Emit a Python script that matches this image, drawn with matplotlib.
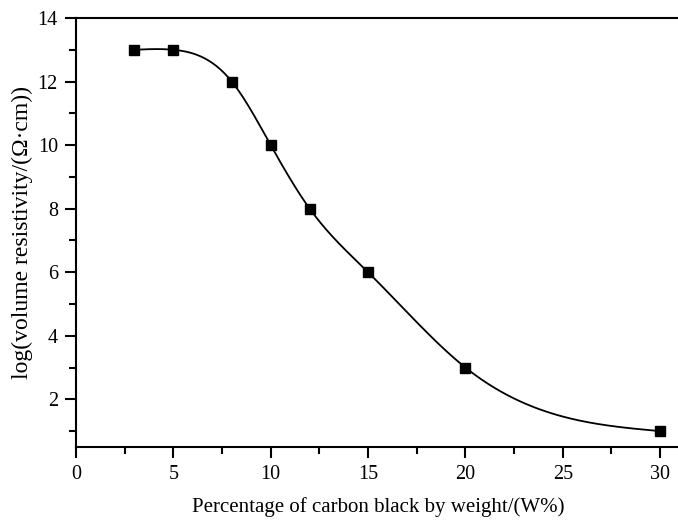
import numpy as np
import matplotlib.pyplot as plt

carbon_pct = [3, 5, 8, 10, 12, 15, 20, 30]
log_resist = [13, 13, 12, 10, 8, 6, 3, 1]


def natural_spline(x, y, xs):
    # plain natural cubic spline, solved with numpy
    x = np.asarray(x, float)
    y = np.asarray(y, float)
    n = len(x)
    h = np.diff(x)
    A = np.zeros((n, n))
    b = np.zeros(n)
    A[0, 0] = A[-1, -1] = 1
    for i in range(1, n - 1):
        A[i, i - 1] = h[i - 1]
        A[i, i] = 2 * (h[i - 1] + h[i])
        A[i, i + 1] = h[i]
        b[i] = 6 * ((y[i + 1] - y[i]) / h[i] - (y[i] - y[i - 1]) / h[i - 1])
    M = np.linalg.solve(A, b)
    idx = np.clip(np.searchsorted(x, xs) - 1, 0, n - 2)
    x0, x1 = x[idx], x[idx + 1]
    hh = h[idx]
    return (M[idx] * (x1 - xs)**3 / (6 * hh) + M[idx + 1] * (xs - x0)**3 / (6 * hh)
            + (y[idx] / hh - M[idx] * hh / 6) * (x1 - xs)
            + (y[idx + 1] / hh - M[idx + 1] * hh / 6) * (xs - x0))


plt.rcParams['font.family'] = ['Liberation Serif', 'DejaVu Serif']

fig = plt.figure(figsize=(6.78, 5.23), dpi=100)
ax = fig.add_axes([0.1121, 0.1453, 0.8903, 0.8203])

xs = np.linspace(carbon_pct[0], carbon_pct[-1], 400)
ax.plot(xs, natural_spline(carbon_pct, log_resist, xs), color='black', lw=1.3)
ax.plot(carbon_pct, log_resist, 's', color='black', markersize=7)

ax.set_xlim(0, 31)
ax.set_ylim(0.5, 14)
ax.set_xticks([0, 5, 10, 15, 20, 25, 30])
ax.set_xticks([2.5, 7.5, 12.5, 17.5, 22.5, 27.5], minor=True)
ax.set_yticks([2, 4, 6, 8, 10, 12, 14])
ax.set_yticks([1, 3, 5, 7, 9, 11, 13], minor=True)
ax.tick_params(which='major', direction='out', length=8, width=1.5,
               labelsize=14.5, top=False, right=False, pad=5)
ax.tick_params(which='minor', direction='out', length=5, width=1.5,
               top=False, right=False)
for s in ax.spines.values():
    s.set_linewidth(1.5)

ax.set_xlabel("Percentage of carbon black by weight/(W%)", fontsize=15)
ax.set_ylabel("log(volume resistivity/(\u03a9\u00b7cm))", fontsize=17)
ax.xaxis.set_label_coords(0.5, -0.117)
ax.yaxis.set_label_coords(-0.072, 0.5)

fig.savefig("out.png", dpi=100)
